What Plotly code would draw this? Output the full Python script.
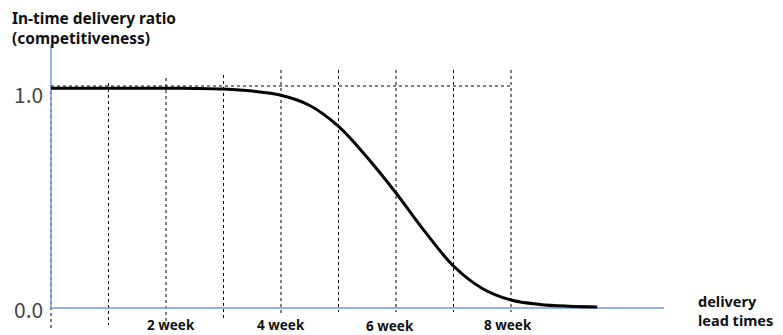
import plotly.graph_objects as go

# ---- data ----
weeks = [0, 0.5, 1, 1.5, 2, 2.5, 3, 3.5, 4, 4.5, 5, 5.5, 6, 6.5, 7, 7.5, 8, 8.5, 9, 9.5]
ratio = [0.99, 0.99, 0.99, 0.99, 0.99, 0.989, 0.986, 0.977, 0.958, 0.912, 0.818, 0.678,
         0.518, 0.345, 0.189, 0.088, 0.036, 0.016, 0.008, 0.005]
grid_weeks = [0, 1, 2, 3, 4, 5, 6, 7, 8]
x_tick_vals = [2, 4, 6, 8]
x_tick_text = ["2 week", "4 week", "6 week", "8 week"]
y_tick_vals = [1.0, 0.0]
y_tick_text = ["1.0", "0.0"]
y_title = ["In-time delivery ratio", "(competitiveness)"]
x_title = ["delivery", "lead times"]

# ---- styling / layout (pixel geometry of the reference) ----
W, H = 783, 335
X0, DX = 51, 57.5        # pixel of week 0, pixels per week
Y0, DY = 308, 222        # pixel of ratio 0, pixels per unit


def px_to_x(p):
    return (p - X0) / DX


def px_to_y(p):
    return (Y0 - p) / DY


grid_top_px = [85, 83, 78, 75, 70, 70, 70, 70, 70]
grid_bot_px = [328, 325, 322, 318, 315, 312, 312, 312, 312]
x_label_dx = [5, 0, -6, -3]
x_label_py = [325, 324.5, 326, 324.5]
BLUE = "#6f9be0"
FONT = "Noto Sans"
NUMFONT = "Noto Sans CJK JP"

fig = go.Figure()

# vertical dotted guides
for i, w in enumerate(grid_weeks):
    fig.add_trace(go.Scatter(
        x=[w, w], y=[px_to_y(grid_top_px[i]), px_to_y(grid_bot_px[i])],
        mode="lines", line=dict(color="black", width=1, dash="dot"),
        hoverinfo="skip", showlegend=False))

# horizontal dotted guide at 1.0
fig.add_trace(go.Scatter(
    x=[grid_weeks[0], grid_weeks[-1]], y=[y_tick_vals[0], y_tick_vals[0]],
    mode="lines", line=dict(color="black", width=1, dash="dot"),
    hoverinfo="skip", showlegend=False))

# axes (blue)
fig.add_trace(go.Scatter(
    x=[0, 0], y=[0, px_to_y(45)], mode="lines",
    line=dict(color=BLUE, width=1.5), hoverinfo="skip", showlegend=False))
fig.add_trace(go.Scatter(
    x=[0, px_to_x(664)], y=[0, 0], mode="lines",
    line=dict(color=BLUE, width=1.5), hoverinfo="skip", showlegend=False))

# curve
fig.add_trace(go.Scatter(
    x=weeks, y=ratio, mode="lines",
    line=dict(color="black", width=3, shape="spline", smoothing=1.0),
    showlegend=False))

ann = []
for i, (v, t) in enumerate(zip(x_tick_vals, x_tick_text)):
    ann.append(dict(x=v + x_label_dx[i] / DX, y=px_to_y(x_label_py[i]), text=t,
                    xref="x", yref="y", showarrow=False, xanchor="center", yanchor="middle",
                    font=dict(family=FONT, size=13.5, color="#111", weight="bold")))
for v, t, p in zip(y_tick_vals, y_tick_text, [94, 308.5]):
    ann.append(dict(x=px_to_x(45), y=px_to_y(p), text=t, xref="x", yref="y",
                    showarrow=False, xanchor="right", yanchor="middle",
                    font=dict(family=NUMFONT, size=21, color="#444")))
ann.append(dict(x=px_to_x(10), y=px_to_y(27.5), text="<br>".join(y_title), xref="x", yref="y",
                showarrow=False, xanchor="left", yanchor="middle", align="left",
                font=dict(family=FONT, size=15.5, color="#111", weight="bold")))
ann.append(dict(x=px_to_x(696), y=px_to_y(310.5), text="<br>".join(x_title), xref="x", yref="y",
                showarrow=False, xanchor="left", yanchor="middle", align="left",
                font=dict(family=FONT, size=14.5, color="#111", weight="bold")))

fig.update_layout(
    width=W, height=H, autosize=False,
    margin=dict(l=0, r=0, t=0, b=0),
    plot_bgcolor="white", paper_bgcolor="white",
    xaxis=dict(range=[px_to_x(0), px_to_x(W)], visible=False, fixedrange=True),
    yaxis=dict(range=[px_to_y(H), px_to_y(0)], visible=False, fixedrange=True),
    annotations=ann,
)

fig.write_html("out.html", config={"displayModeBar": False},
               post_script="document.body.style.margin='0';document.body.style.overflow='hidden';")
